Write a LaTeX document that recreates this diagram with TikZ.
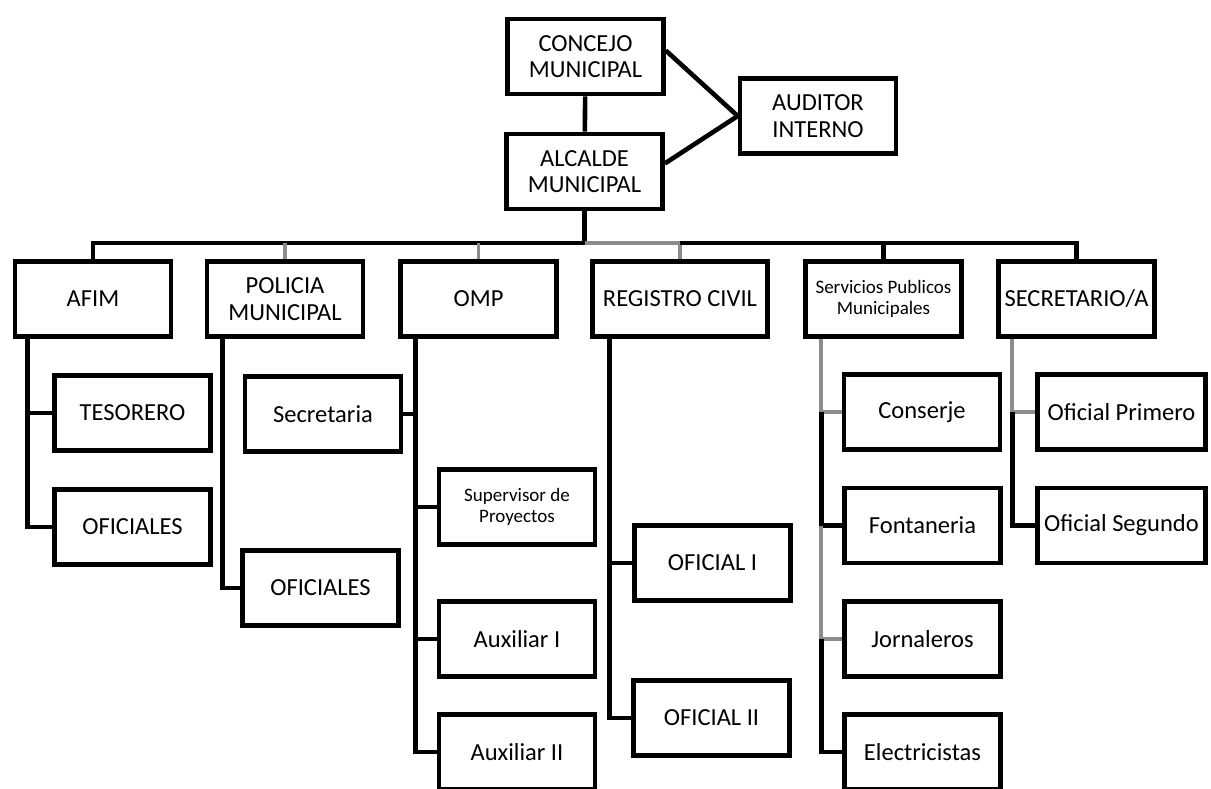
\documentclass[tikz,border=0pt]{standalone}
\usepackage{fontspec}
\setmainfont{Carlito}
\begin{document}
\begin{tikzpicture}[x=1pt, y=-1pt,
  box/.style={draw, line width=4.6pt, minimum width=156pt, minimum height=75pt, inner sep=2pt, align=center, font=\fontsize{24.5}{26.5}\selectfont},
  small/.style={font=\fontsize{19}{21}\selectfont},
  link/.style={line width=4.6pt},
  faint/.style={line width=3.6pt, draw=black!45}]
\path[use as bounding box, clip] (0,0) rectangle (1211,788);

\node[box] (con) at (585.5,56.5) {CONCEJO\\MUNICIPAL};
\node[box] (alc) at (584.5,171.5) {ALCALDE\\MUNICIPAL};
\node[box] (aud) at (818,116) {AUDITOR\\INTERNO};

\draw[link] (con) -- (alc);
\draw[link] ([yshift=6pt]con.east) -- (aud.west);
\draw[link] ([yshift=8pt]alc.east) -- (aud.west);

\node[box] (afim) at (93,299) {AFIM};
\node[box] (pol) at (285,299) {POLICIA\\MUNICIPAL};
\node[box] (omp) at (478.5,299) {OMP};
\node[box, minimum width=175pt] (reg) at (680,299) {REGISTRO CIVIL};
\node[box, small] (serv) at (883.5,299) {Servicios Publicos\\Municipales};
\node[box] (secr) at (1076.5,299) {SECRETARIO/A};

\coordinate (bus) at (0,243);
\draw[link] (afim.north) -- (afim.north |- bus) -- (alc.south |- bus) -- (alc.south);
\draw[faint] (alc.south |- bus) -- (reg.north |- bus) -- (reg.north);
\draw[link] (reg.north |- bus) -- (secr.north |- bus) -- (secr.north);
\draw[faint] (pol.north) -- (pol.north |- bus);
\draw[faint] (omp.north) -- (omp.north |- bus);
\draw[link] (serv.north) -- (serv.north |- bus);

% AFIM
\node[box] (tes) at (132.5,413) {TESORERO};
\node[box] (ofa) at (132.5,527) {OFICIALES};
\coordinate (sA) at ([xshift=15pt]afim.south west);
\draw[link] (sA) |- (ofa.west);
\draw[link] (tes.west) -- (tes.west -| sA);

% POLICIA
\node[box] (sria) at (323,414) {Secretaria};
\node[box] (ofb) at (320.5,588) {OFICIALES};
\coordinate (sB) at ([xshift=18pt]pol.south west);
\draw[link] (sB) |- (ofb.west);

% OMP
\node[box, small] (sup) at (517,507) {Supervisor de\\Proyectos};
\node[box] (aux1) at (517,639) {Auxiliar I};
\node[box] (aux2) at (517,752) {Auxiliar II};
\coordinate (sC) at ([xshift=17pt]omp.south west);
\draw[link] (sC) |- (aux2.west);
\draw[link] (sria.east) -- (sria.east -| sC);
\draw[link] (sup.west) -- (sup.west -| sC);
\draw[link] (aux1.west) -- (aux1.west -| sC);

% REGISTRO CIVIL
\node[box] (of1) at (712.5,563) {OFICIAL I};
\node[box] (of2) at (711.5,718) {OFICIAL II};
\coordinate (sD) at ([xshift=19pt]reg.south west);
\draw[link] (sD) |- (of2.west);
\draw[link] (of1.west) -- (of1.west -| sD);

% Servicios Publicos
\node[box] (cons) at (922,412) {Conserje};
\node[box] (font) at (922.5,525.5) {Fontaneria};
\node[box] (jorn) at (922.5,639) {Jornaleros};
\node[box] (elec) at (922.5,752) {Electricistas};
\coordinate (sE) at ([xshift=18pt]serv.south west);
\draw[faint] (sE) |- (cons.west);
\draw[link] (cons.west -| sE) |- (font.west);
\draw[faint] (font.west -| sE) |- (jorn.west);
\draw[link] (jorn.west -| sE) |- (elec.west);

% SECRETARIO/A
\node[box, minimum width=168pt] (ofpri) at (1121.5,412) {Oficial Primero};
\node[box, minimum width=168pt] (ofseg) at (1121.5,525.5) {Oficial Segundo};
\coordinate (sF) at ([xshift=16pt]secr.south west);
\draw[faint] (sF) |- (ofpri.west);
\draw[link] (ofpri.west -| sF) |- (ofseg.west);
\end{tikzpicture}
\end{document}
